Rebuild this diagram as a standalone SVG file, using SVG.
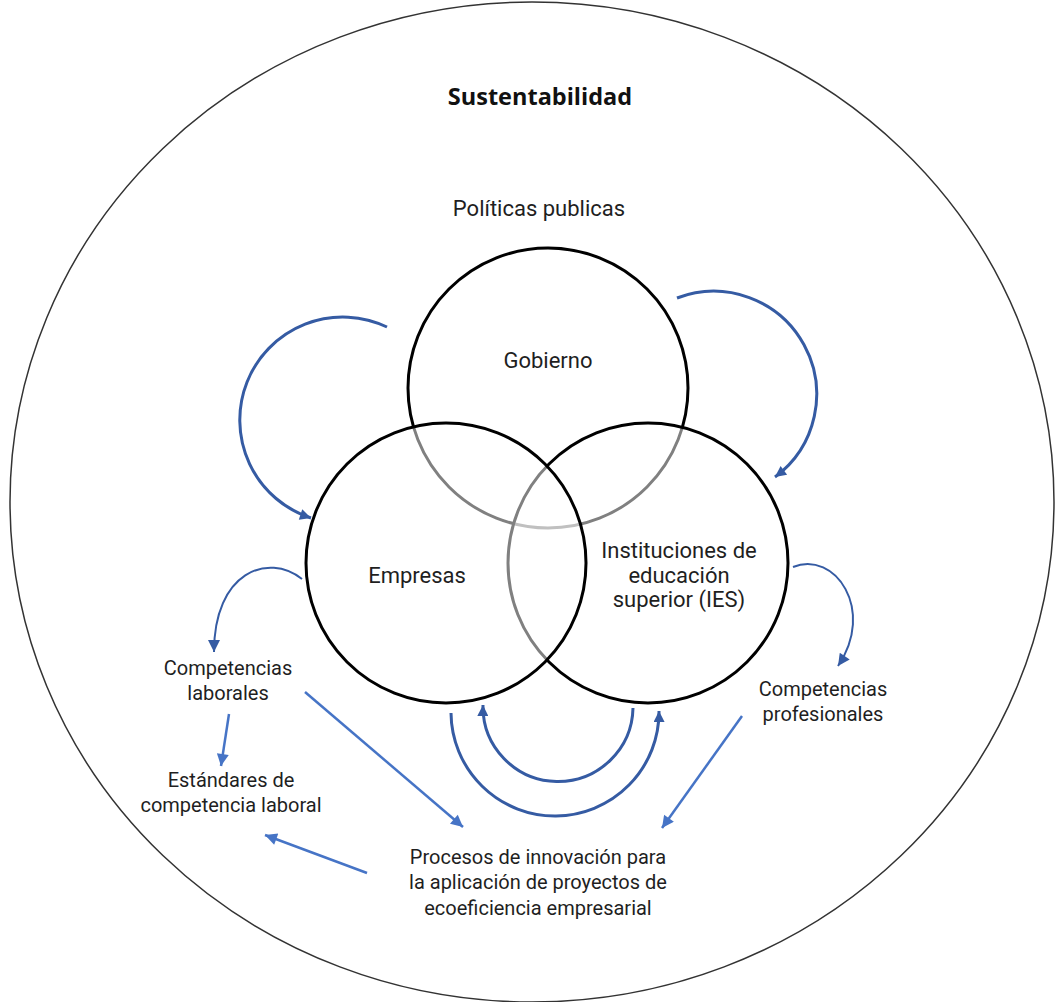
<svg xmlns="http://www.w3.org/2000/svg" width="1055" height="1002" viewBox="0 0 1055 1002">
  <style>
    .lbl { font-family: Roboto, "Liberation Sans", Arial, sans-serif; fill: #1f1f1f; text-anchor: middle; }
    .big { font-size: 22px; }
    .small { font-size: 20px; }
    .title { font-family: "Open Sans", "Liberation Sans", Arial, sans-serif; font-weight: 700; font-size: 23.5px; fill: #111; text-anchor: middle; }
    .venn { fill: #ffffff; fill-opacity: 0.5; stroke: #000; stroke-width: 3; }
    .loop { fill: none; stroke: #355ba3; stroke-width: 3; }
    .loop-thin { fill: none; stroke: #355ba3; stroke-width: 2; }
    .link { fill: none; stroke: #4674c6; stroke-width: 2.5; }
  </style>
  <defs>
    <marker id="headDark" viewBox="0 0 10 10" refX="10" refY="5" markerUnits="userSpaceOnUse" markerWidth="18" markerHeight="11" orient="auto">
      <path d="M0,0 L10,5 L0,10 z" fill="#355ba3"/>
    </marker>
    <marker id="headSmall" viewBox="0 0 10 10" refX="10" refY="5" markerUnits="userSpaceOnUse" markerWidth="15" markerHeight="12" orient="auto">
      <path d="M0,0 L10,5 L0,10 z" fill="#355ba3"/>
    </marker>
    <marker id="headLight" viewBox="0 0 10 10" refX="10" refY="5" markerUnits="userSpaceOnUse" markerWidth="15" markerHeight="12" orient="auto">
      <path d="M0,0 L10,5 L0,10 z" fill="#4674c6"/>
    </marker>
  </defs>

  <!-- outer boundary: sustainability -->
  <g id="sustentabilidad">
    <ellipse cx="532" cy="502" rx="522" ry="500" fill="#fff" stroke="#333" stroke-width="1.5"/>
    <text class="title" x="540" y="105">Sustentabilidad</text>
  </g>

  <g id="politicas">
    <text class="lbl big" x="539" y="216">Políticas publicas</text>
  </g>

  <!-- Venn circles; translucent white fill greys the arcs beneath -->
  <g id="gobierno">
    <circle class="venn" cx="548" cy="388" r="140"/>
  </g>
  <g id="ies">
    <circle class="venn" cx="648" cy="563" r="140"/>
  </g>
  <g id="empresas">
    <circle class="venn" cx="446" cy="563" r="140"/>
  </g>

  <!-- connectors -->
  <g id="connectors">
    <path class="loop" d="M387,327 A103,103 0 1 0 311,518" marker-end="url(#headDark)"/>
    <path class="loop" d="M677,298 A103,103 0 0 1 775,477" marker-end="url(#headDark)"/>
    <path class="loop-thin" d="M302,579 C268,552 214,572 214,652" marker-end="url(#headSmall)"/>
    <path class="loop-thin" d="M793,567 C835,550 876,610 838,666" marker-end="url(#headSmall)"/>
    <path class="loop" d="M633,708 A75,75 0 0 1 483,705" marker-end="url(#headDark)"/>
    <path class="loop" d="M451,713 A104,104 0 0 0 659,711" marker-end="url(#headDark)"/>
    <path class="link" d="M229,714 L221,766" marker-end="url(#headLight)"/>
    <path class="link" d="M305,692 L463,827" marker-end="url(#headLight)"/>
    <path class="link" d="M742,716 L662,828" marker-end="url(#headLight)"/>
    <path class="link" d="M367,873 L265,835" marker-end="url(#headLight)"/>
  </g>

  <!-- labels -->
  <g id="label-gobierno">
    <text class="lbl big" x="548" y="368">Gobierno</text>
  </g>
  <g id="label-empresas">
    <text class="lbl big" x="417" y="583">Empresas</text>
  </g>
  <g id="label-ies">
    <text class="lbl big" x="679" y="558">Instituciones de</text>
    <text class="lbl big" x="679" y="583">educación</text>
    <text class="lbl big" x="679" y="607">superior (IES)</text>
  </g>
  <g id="competencias-laborales">
    <text class="lbl small" x="228" y="675">Competencias</text>
    <text class="lbl small" x="228" y="700">laborales</text>
  </g>
  <g id="competencias-profesionales">
    <text class="lbl small" x="823" y="696">Competencias</text>
    <text class="lbl small" x="823" y="721">profesionales</text>
  </g>
  <g id="estandares">
    <text class="lbl small" x="231" y="787">Estándares de</text>
    <text class="lbl small" x="231" y="812">competencia laboral</text>
  </g>
  <g id="procesos">
    <text class="lbl small" x="538" y="864">Procesos de innovación para</text>
    <text class="lbl small" x="538" y="889">la aplicación de proyectos de</text>
    <text class="lbl small" x="538" y="915">ecoeficiencia empresarial</text>
  </g>
</svg>
